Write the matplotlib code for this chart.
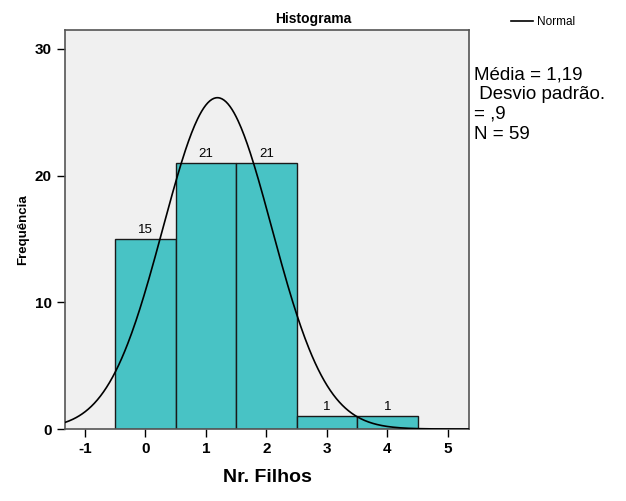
import matplotlib.pyplot as plt
import numpy as np

plt.rcParams['font.family'] = ['Liberation Sans', 'DejaVu Sans']
plt.rcParams['axes.unicode_minus'] = False

# dados do histograma
filhos = [0, 1, 2, 3, 4]
freq = [15, 21, 21, 1, 1]
media = 1.19
desvio = 0.9
n_total = 59

fig = plt.figure(figsize=(6.26, 5.01), dpi=100)
ax = fig.add_axes([0.1038, 0.1437, 0.6454, 0.7965])
ax.set_facecolor("#f0f0f0")

bars = ax.bar(filhos, freq, width=1.0, color="#48c3c5", edgecolor="#1a1a1a", linewidth=1.0, zorder=2)
for xb, f in zip(filhos, freq):
    ax.text(xb, f + 0.25, str(f), ha="center", va="bottom", fontsize=9.5, zorder=4)

# curva normal
xs = np.linspace(-1.33, 5.35, 400)
ys = n_total * 1.0 / (desvio * np.sqrt(2 * np.pi)) * np.exp(-0.5 * ((xs - media) / desvio) ** 2)
ax.plot(xs, ys, color="black", linewidth=1.2, zorder=3, label="Normal")

ax.set_xlim(-1.33, 5.35)
ax.set_ylim(0, 31.5)
ax.set_xticks([-1, 0, 1, 2, 3, 4, 5])
ax.set_yticks([0, 10, 20, 30])
ax.tick_params(direction="out", length=6, width=1, labelsize=11, colors="black")
for lab in ax.get_xticklabels() + ax.get_yticklabels():
    lab.set_fontweight("bold")
for s in ax.spines.values():
    s.set_color("#555555")
    s.set_linewidth(1.2)

fig.text(0.5, 0.962, "Histograma", fontsize=10, fontweight="bold", ha="center", va="center")
ax.set_xlabel("Nr. Filhos", fontsize=14, fontweight="bold", labelpad=9)
ax.set_ylabel("Frequência", fontsize=9.5, fontweight="bold", labelpad=4)

fig.legend(loc="upper left", bbox_to_anchor=(0.80, 0.99), frameon=False, fontsize=8.5,
           handlelength=1.8, handletextpad=0.4)

fig.text(0.757, 0.868, "Média = 1,19\n Desvio padrão.\n= ,9\nN = 59", fontsize=13.5,
         va="top", ha="left", linespacing=1.22)

fig.savefig("out.png", dpi=100)
